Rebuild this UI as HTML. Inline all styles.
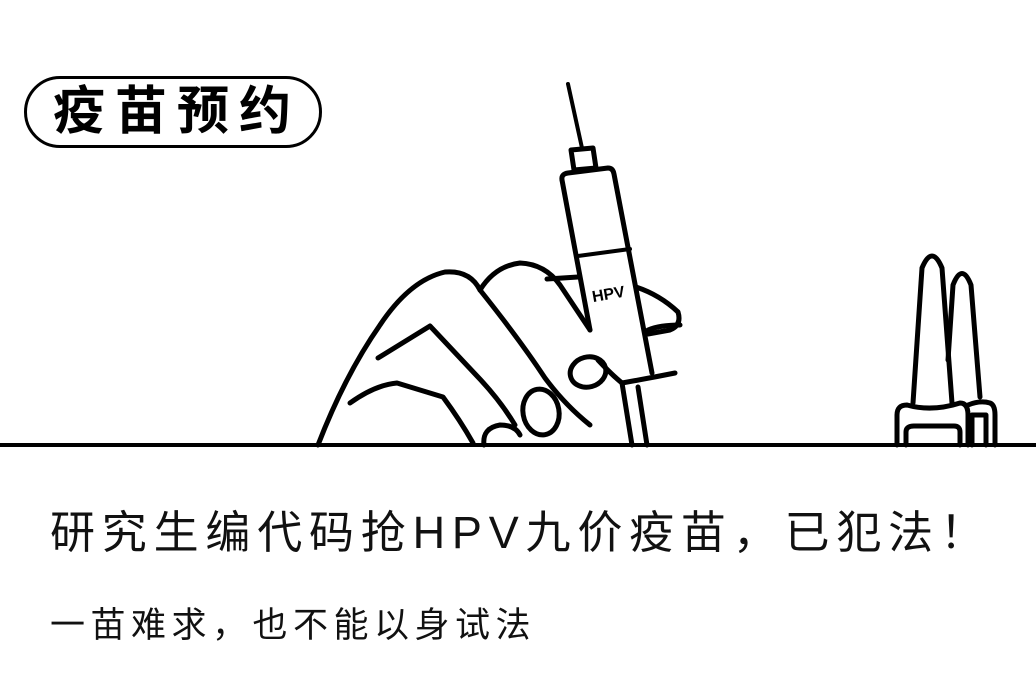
<!DOCTYPE html>
<html><head><meta charset="utf-8"><style>
html,body{margin:0;padding:0;background:#fff;}
body{width:1036px;height:700px;position:relative;overflow:hidden;font-family:"Liberation Sans","Noto Sans CJK SC",sans-serif;}
svg{position:absolute;left:0;top:0;}
.t1{position:absolute;left:50px;top:496px;font-size:45px;color:#111;white-space:nowrap;letter-spacing:6.8px;}
.t2{position:absolute;left:50px;top:597px;font-size:35px;color:#111;white-space:nowrap;letter-spacing:5.5px;}
.badge{position:absolute;left:24px;top:76px;width:298px;height:72px;border:3px solid #000;border-radius:38px;box-sizing:border-box;font-size:52px;font-weight:bold;line-height:66px;text-align:center;letter-spacing:10px;padding-left:8px;font-family:"Liberation Sans","Noto Sans CJK SC",sans-serif;}
</style></head><body>
<div class="badge">疫苗预约</div>
<svg width="1036" height="700" viewBox="0 0 1036 700" fill="none" stroke="#000" stroke-width="5" stroke-linecap="round" stroke-linejoin="round">
<line x1="0" y1="445" x2="1036" y2="445" stroke-width="4"/>
<!-- syringe -->
<line x1="568" y1="84" x2="582" y2="148" stroke-width="4"/>
<path d="M571 150 L593 148 L596 168 L574 170 Z"/>
<path d="M562 180 Q561 174 568 173 L608 168 Q613 168 614 174 L652 373"/>
<line x1="562" y1="180" x2="590" y2="330"/>
<line x1="578" y1="256" x2="630" y2="249" stroke-width="4"/>
<text x="592" y="300" font-size="16" font-weight="bold" fill="#000" stroke="none" transform="rotate(-10 605 295)" font-family="Liberation Sans">HPV</text>
<!-- hand -->
<path d="M318 445 Q345 375 380 325 Q410 280 445 272 Q470 270 480 290"/>
<path d="M480 290 Q495 266 520 263 Q545 264 560 285 L590 330"/>
<line x1="547" y1="279" x2="578" y2="277"/>
<path d="M480 290 Q520 340 545 378 Q565 405 590 425"/>
<path d="M378 358 L430 326 L477 376 Q500 400 515 425"/>
<path d="M350 403 Q375 385 397 383 L443 397 Q460 420 473 443"/>
<path d="M636 287 Q660 295 678 312 Q682 325 670 330 L648 334"/>
<path d="M648 330 Q660 325 680 325"/>
<ellipse cx="588" cy="372" rx="18" ry="15" transform="rotate(-15 588 372)"/>
<ellipse cx="541" cy="412" rx="18" ry="23" transform="rotate(-10 541 412)"/>
<path d="M484 445 Q482 428 500 425 Q515 425 520 435"/>
<path d="M622 383 Q650 378 675 373"/>
<line x1="622" y1="383" x2="632" y2="445"/>
<line x1="638" y1="387" x2="647" y2="445"/>
<path d="M598 360 Q612 375 622 383"/>
<!-- bottles -->
<path d="M913 403 L922 268 Q932 244 942 268 L952 403"/>
<path d="M948 360 L953 285 Q962 262 971 285 L980 397"/>
<path d="M897 445 L897 415 Q897 405 907 405 Q932 412 960 403 Q968 403 968 415 L968 445"/>
<path d="M906 445 L906 432 Q906 426 914 426 L954 426 Q960 426 960 432 L960 445"/>
<path d="M968 405 Q980 400 990 403 Q995 405 995 415 L995 445"/>
<path d="M972 445 L972 415 L986 415 L986 445"/>
</svg>
<div class="t1">研究生编代码抢HPV九价疫苗，已犯法！</div>
<div class="t2">一苗难求，也不能以身试法</div>
</body></html>
